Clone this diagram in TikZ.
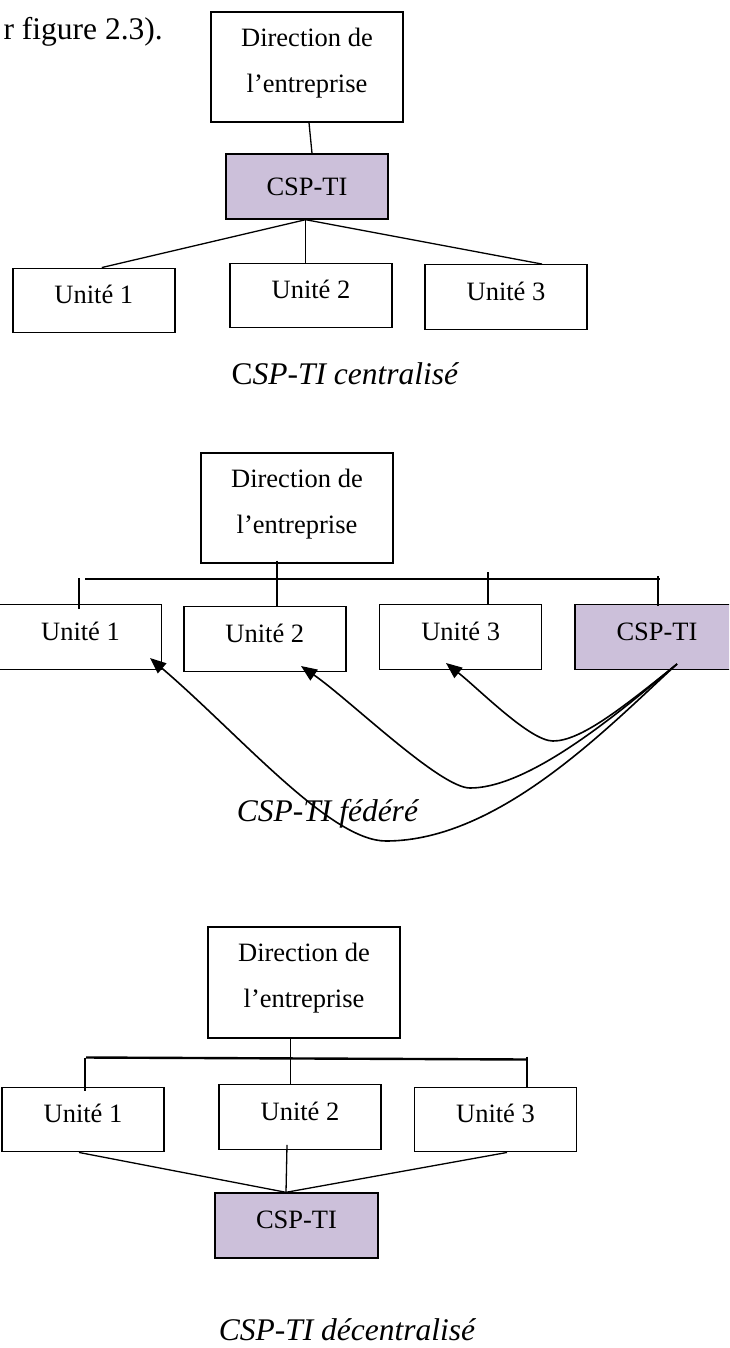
\documentclass[tikz,border=0pt]{standalone}
\usepackage{fontspec}
\setmainfont{Liberation Serif}
\usetikzlibrary{arrows.meta}
\definecolor{lav}{RGB}{204,192,218}
\begin{document}
\begin{tikzpicture}[x=1pt,y=-1pt,
  box/.style={draw, line width=1.4pt, inner sep=0pt, font=\fontsize{26.5}{46}\selectfont},
  unit/.style={box, minimum width=162pt, minimum height=64.5pt, text height=18pt, text depth=12pt},
  dirbox/.style={box, minimum width=192pt, minimum height=110pt, align=center, text depth=14pt},
  csp/.style={fill=lav},
  link/.style={line width=1.3pt},
  bar/.style={line width=2.4pt},
  flow/.style={line width=1.6pt, -{Triangle[length=16pt,width=13pt]}},
  caption/.style={font=\fontsize{31.5}{36}\selectfont, anchor=base, inner sep=0pt}
]
\useasboundingbox (0,0) rectangle (729,1348);
\clip (0,0) rectangle (729,1348);

% ---------- centralised ----------
\node[caption, anchor=base east] (fig) at (163,39.5) {r figure 2.3).};
\node[dirbox] (dir1) at (307,67) {Direction de\\l’entreprise};
\node[box, csp, minimum width=162pt, minimum height=65pt] (csp1) at (307,186.5) {CSP-TI};
\node[unit] (u11) at (93.8,300.5) {Unité 1};
\node[unit] (u12) at (311,295.5) {Unité 2};
\node[unit] (u13) at (506,297) {Unité 3};
\draw[link] ([xshift=2pt]dir1.south) -- ([xshift=5pt]csp1.north);
\coordinate (hub1) at ([xshift=-1.4pt]csp1.south);
\draw[link] (hub1) -- ([xshift=8pt]u11.north);
\draw[link] (hub1) -- ([xshift=-5.4pt]u12.north);
\draw[link] (hub1) -- ([xshift=36pt]u13.north);
\node[caption] (cap1) at (345.5,384) {C\textit{SP-TI centralisé}};

% ---------- federated ----------
\node[dirbox] (dir2) at (297,508) {Direction de\\l’entreprise};
\node[unit] (u21) at (80.5,637) {Unité 1};
\node[unit] (u22) at (264.8,639) {Unité 2};
\node[unit] (u23) at (460.7,637) {Unité 3};
\node[unit, csp, minimum width=164pt] (csp2) at (657,637) {CSP-TI};
\coordinate (bl2) at (85,579);
\coordinate (br2) at (659.5,579);
\draw[bar] (bl2) -- (br2);
\draw[link] ([xshift=-20pt,yshift=3pt]dir2.south) -- ([xshift=12.2pt,yshift=-1pt]u22.north);
\draw[link] ([xshift=-1.5pt,yshift=26pt]u21.north) -- ([xshift=-1.5pt,yshift=-5pt]u21.north);
\draw[link] ([xshift=27.3pt,yshift=32pt]u23.north) -- ([xshift=27.3pt]u23.north);
\draw[link] ([xshift=1pt,yshift=28pt]csp2.north) -- ([xshift=1pt,yshift=-2pt]csp2.north);

\coordinate (s) at (677,664);
\coordinate (t1) at (150,658);
\coordinate (t2) at (301,666);
\coordinate (t3) at (446,663);
\coordinate (b1) at (386,841);
\coordinate (b2) at (470,788);
\coordinate (b3) at (553,741);
\draw[flow] (s) .. controls (620,710) and (580,741) .. (b3)
                .. controls (530,741) and (480,690) .. (t3);
\draw[flow] (s) .. controls (620,712) and (530,788) .. (b2)
                .. controls (440,788) and (350,700) .. (t2);
\draw[flow] (s) .. controls (610,725) and (500,841) .. (b1)
                .. controls (330,841) and (240,735) .. (t1);
\node[caption] (cap2) at (328,821) {\textit{CSP-TI fédéré}};

% ---------- decentralised ----------
\node[dirbox, minimum height=111pt] (dir3) at (304,982.5) {Direction de\\l’entreprise};
\node[unit] (u31) at (83,1119.5) {Unité 1};
\node[unit] (u32) at (300,1117) {Unité 2};
\node[unit] (u33) at (495.5,1119.5) {Unité 3};
\node[unit, csp, minimum width=163pt, minimum height=65pt] (csp3) at (296.5,1225.5) {CSP-TI};
\coordinate (bl3) at (86,1057.5);
\coordinate (br3) at (527,1059.5);
\draw[bar] (bl3) -- (br3);
\draw[link] ([xshift=-13.3pt]dir3.south) -- ([xshift=-9.3pt,yshift=-1pt]u32.north);
\draw[link] ([xshift=2pt,yshift=29pt]u31.north) -- ([xshift=2pt,yshift=-4pt]u31.north);
\draw[link] ([xshift=31.5pt,yshift=30pt]u33.north) -- ([xshift=31.5pt,yshift=-1pt]u33.north);
\coordinate (hub3) at ([xshift=-10.5pt]csp3.north);
\draw[link] ([xshift=-4pt]u31.south) -- (hub3);
\draw[link] ([xshift=-13pt,yshift=5pt]u32.south) -- (hub3);
\draw[link] ([xshift=11.5pt]u33.south) -- (hub3);
\node[caption] (cap3) at (347.5,1340) {\textit{CSP-TI décentralisé}};
\end{tikzpicture}
\end{document}
